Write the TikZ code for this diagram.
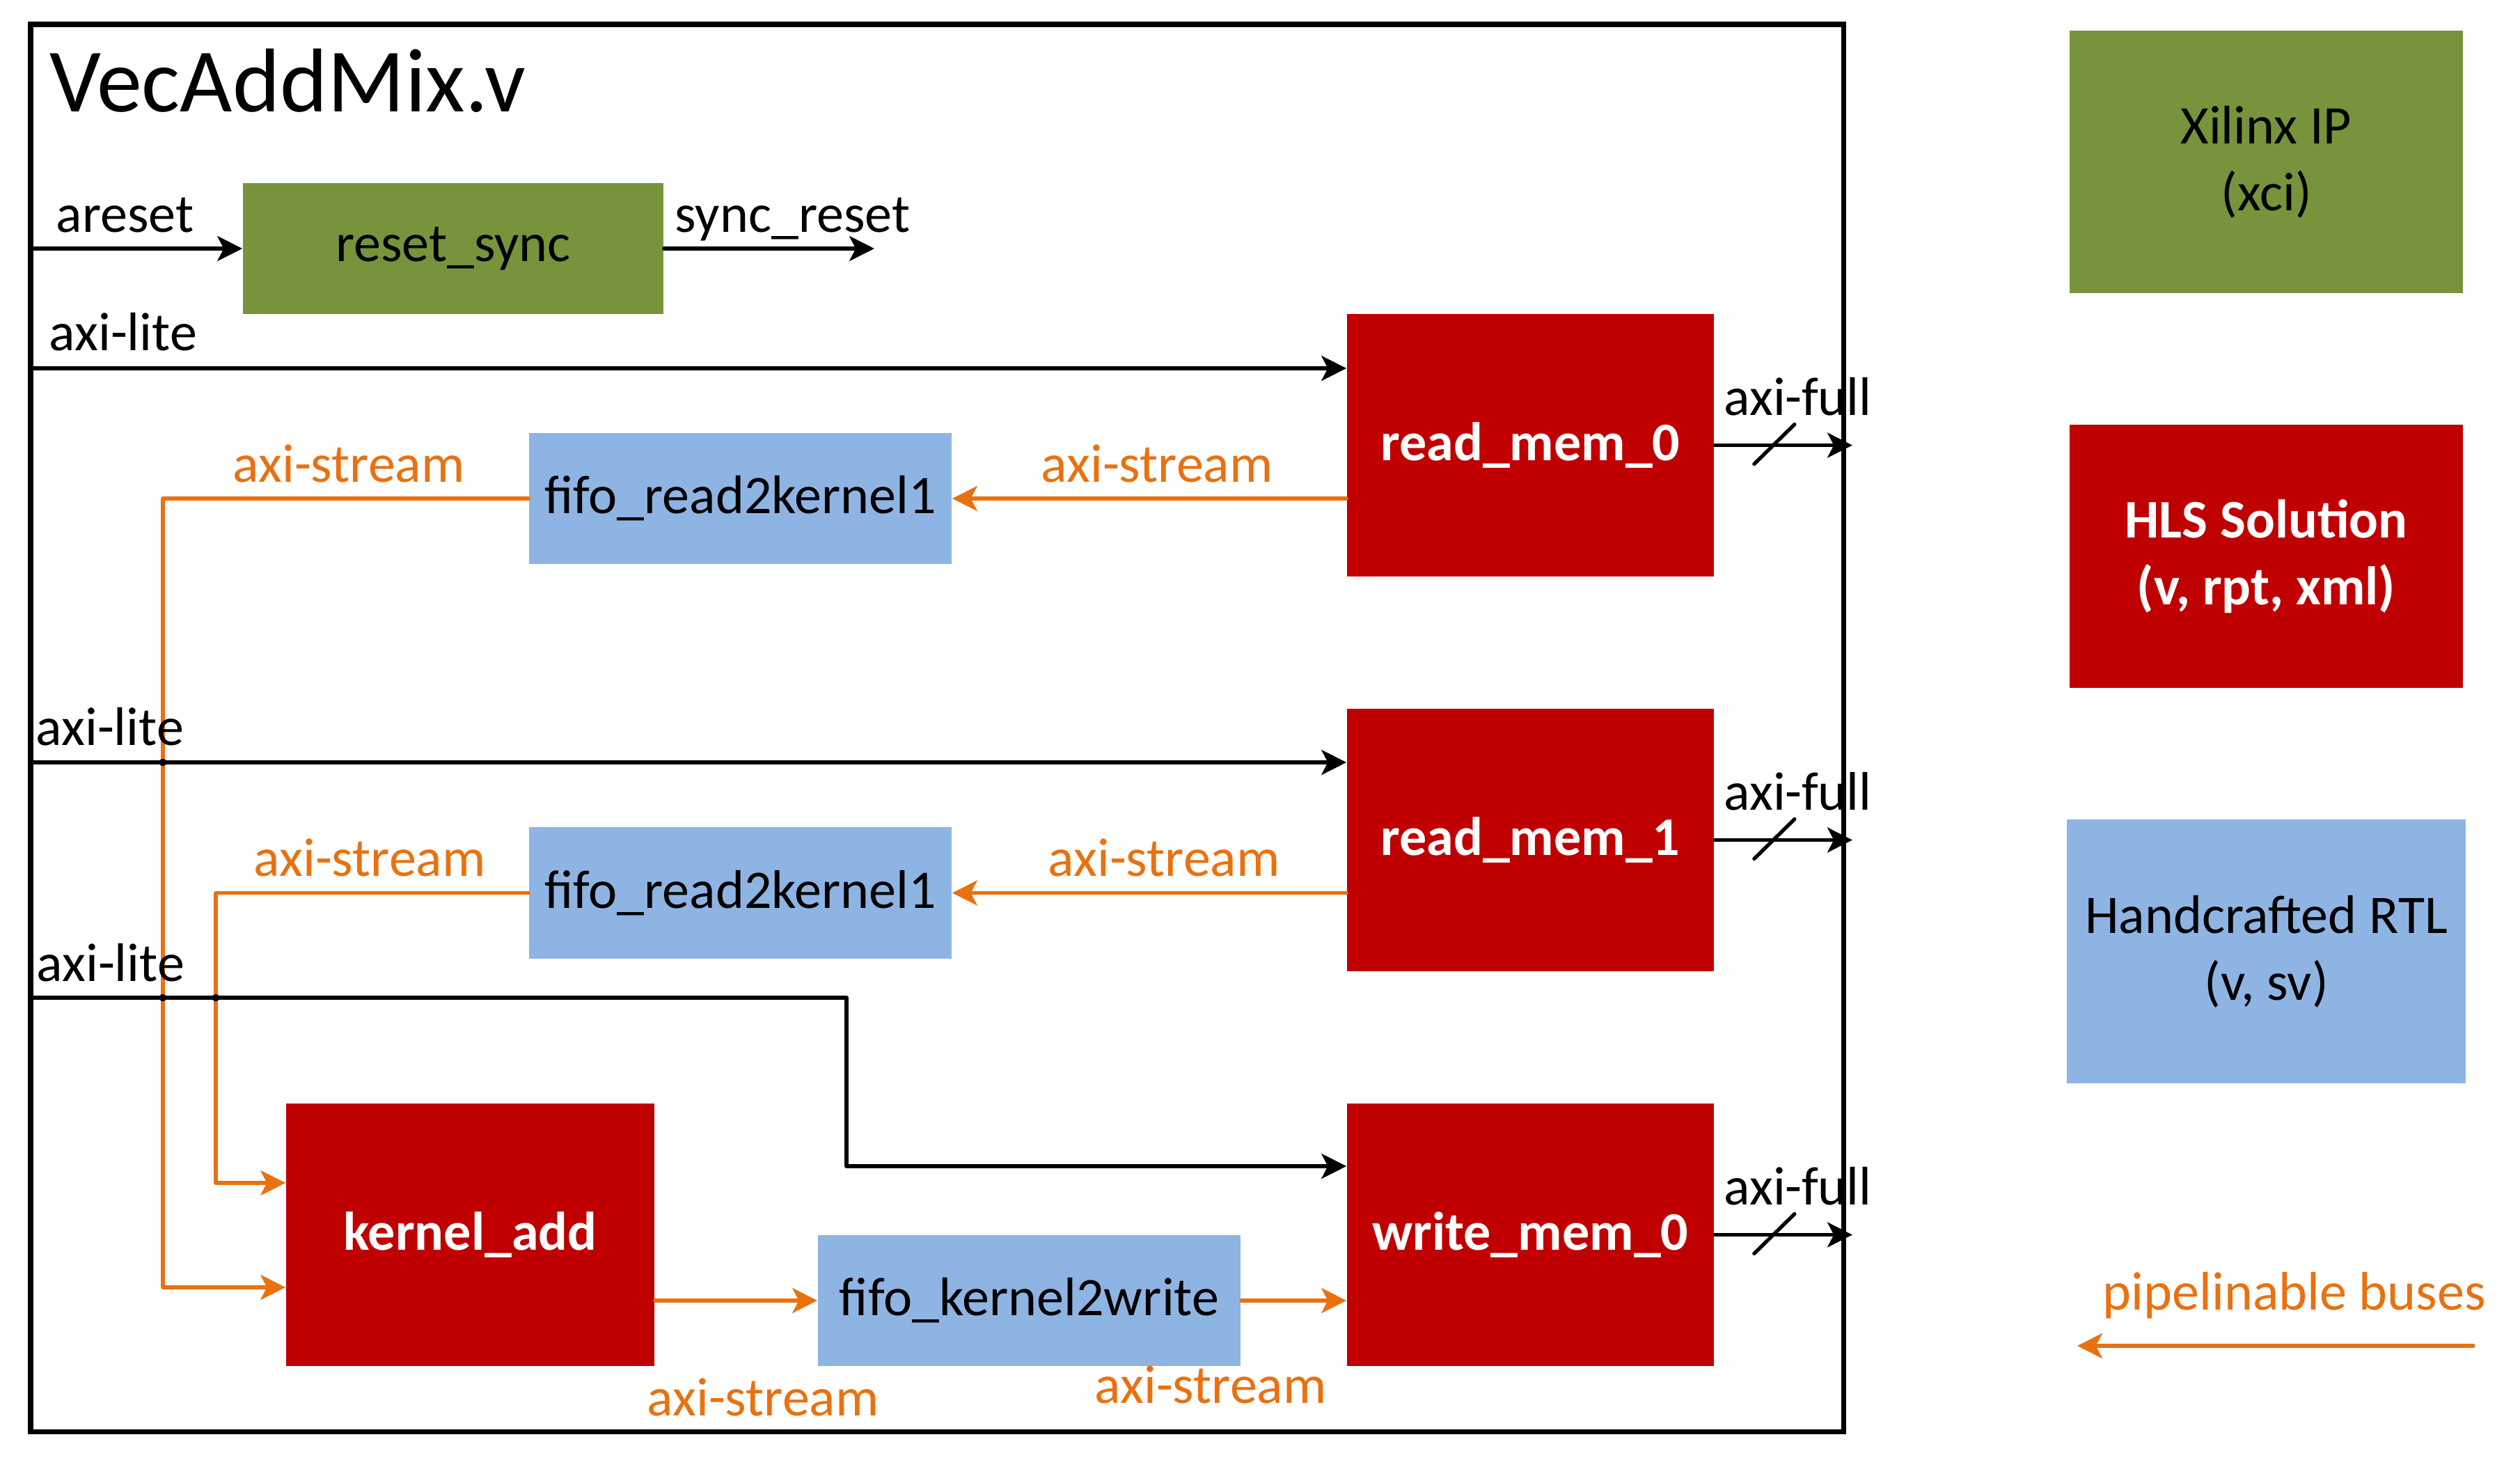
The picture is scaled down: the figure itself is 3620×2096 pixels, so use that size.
\documentclass[tikz,border=0pt]{standalone}
\usepackage{fontspec}
\setmainfont{Carlito}
\usetikzlibrary{arrows.meta}
\definecolor{ipgreen}{RGB}{119,147,60}
\definecolor{hlsred}{RGB}{192,0,0}
\definecolor{rtlblue}{RGB}{142,180,227}
\definecolor{busorange}{RGB}{233,113,16}

\begin{document}
\begin{tikzpicture}[x=0.01cm,y=-0.01cm,
  lbl/.style={font=\fontsize{22.2pt}{27.3pt}\selectfont},
  blockbox/.style={rectangle, inner sep=0pt, align=center, lbl},
  ipbox/.style={blockbox, fill=ipgreen, text=black},
  hlsbox/.style={blockbox, fill=hlsred, text=white, font=\fontsize{22.2pt}{27.3pt}\selectfont\bfseries},
  rtlbox/.style={blockbox, fill=rtlblue, text=black},
  wire/.style={line width=1.5pt, line cap=round, line join=round},
  tipshape/.style={-{Stealth[length=10.2pt,width=10.2pt,inset=2.6pt]}},
  sig/.style={wire, black, tipshape},
  bus/.style={wire, busorange, tipshape},
  tag/.style={lbl, anchor=base west, inner sep=0pt},
  bustag/.style={tag, text=busorange},
]
\useasboundingbox (0,0) rectangle (3620,2096);

% module frame and title
\draw[line width=2pt] (44,35) rectangle (2648,2056);
\node[anchor=base west, inner sep=0pt, font=\fontsize{37pt}{40pt}\selectfont] (title) at (71,160) {VecAddMix.v};

% blocks
\node[ipbox, minimum width=6.04cm, minimum height=1.88cm] (rs) at (651,357) {reset\_sync};
\node[hlsbox, minimum width=5.27cm, minimum height=3.76cm] (rm0) at (2198.5,639.5) {read\_mem\_0};
\node[hlsbox, minimum width=5.27cm, minimum height=3.76cm] (rm1) at (2198.5,1206.5) {read\_mem\_1};
\node[hlsbox, minimum width=5.27cm, minimum height=3.76cm] (wm0) at (2198.5,1773.5) {write\_mem\_0};
\node[hlsbox, minimum width=5.29cm, minimum height=3.76cm] (ka) at (675.5,1773.5) {kernel\_add};
\node[rtlbox, minimum width=6.07cm, minimum height=1.88cm] (f1) at (1063.5,716) {fifo\_read2kernel1};
\node[rtlbox, minimum width=6.07cm, minimum height=1.88cm] (f2) at (1063.5,1282.5) {fifo\_read2kernel1};
\node[rtlbox, minimum width=6.07cm, minimum height=1.88cm] (fk) at (1478.5,1868) {fifo\_kernel2write};

% legend
\node[ipbox, minimum width=5.65cm, minimum height=3.77cm] (lg1) at (3255.5,232.5) {Xilinx IP\\(xci)};
\node[hlsbox, minimum width=5.65cm, minimum height=3.77cm] (lg2) at (3255.5,799) {HLS Solution\\(v, rpt, xml)};
\node[rtlbox, minimum width=5.73cm, minimum height=3.79cm] (lg3) at (3255.5,1366.5) {Handcrafted RTL\\(v, sv)};
\node[bustag] (lgt) at (3020,1881) {pipelinable buses};
\coordinate (lgS) at (3553,1933);
\coordinate (lgE) at (2984,1933);
\draw[bus] (lgS) -- (lgE);

% free wire ends
\coordinate (inA) at (44,357);
\coordinate (syncout) at (1256,357);
\coordinate (l1) at (44,529);
\coordinate (l2) at (44,1095);
\coordinate (l3) at (44,1433);
\coordinate (b3) at (1216,1675);
\coordinate (v1) at (234,1849);
\coordinate (v2) at (310,1699);

% pipelinable stream buses
\draw[bus] (f1.east -| rm0.west) -- (f1.east);
\draw[bus] (f1.west) -| (v1) -- (v1 -| ka.west);
\draw[bus] (f2.east -| rm1.west) -- (f2.east);
\draw[bus] (f2.west) -| (v2) -- (v2 -| ka.west);
\draw[bus] (ka.east |- fk.west) -- (fk.west);
\draw[bus] (fk.east) -- (fk.east -| wm0.west);

% reset and control wires
\draw[sig] (inA) -- (rs.west);
\draw[sig] (rs.east) -- (syncout);
\draw[sig] (l1) -- (l1 -| rm0.west);
\draw[sig] (l2) -- (l2 -| rm1.west);
\draw[sig] (l3) -| (b3) -- (b3 -| wm0.west);
\fill (234,1095) circle[radius=1.5pt];
\fill (234,1433) circle[radius=1.5pt];
\fill (310,1433) circle[radius=1.5pt];

% memory-mapped outputs with bus-width slash
\foreach \m in {rm0,rm1,wm0}{
  \coordinate (\m-out) at ([xshift=1.98cm]\m.east);
  \draw[sig] (\m.east) -- (\m-out);
  \draw[wire] ([shift={(57,27)}]\m.east) -- ([shift={(115,-30)}]\m.east);
  \node[tag] at ([shift={(13,-43)}]\m.east) {axi-full};
}

% wire labels
\node[tag] (tA) at (80,333) {areset};
\node[tag] (tS) at (969,333) {sync\_reset};
\node[tag] (tL1) at (70,503) {axi-lite};
\node[tag] (tL2) at (51,1070) {axi-lite};
\node[tag] (tL3) at (52,1409) {axi-lite};
\node[bustag] at (334,692) {axi-stream};
\node[bustag] at (1495,692) {axi-stream};
\node[bustag] at (364,1258) {axi-stream};
\node[bustag] at (1505,1258) {axi-stream};
\node[bustag] at (929,2033) {axi-stream};
\node[bustag] at (1572,2015) {axi-stream};
\end{tikzpicture}
\end{document}
